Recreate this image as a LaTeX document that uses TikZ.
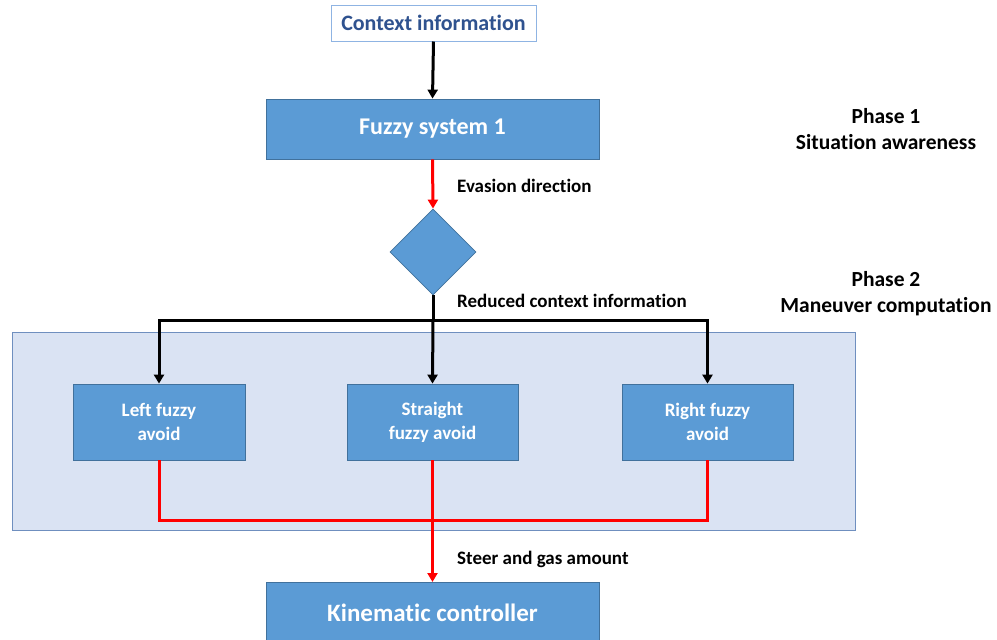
\documentclass[tikz,border=0pt]{standalone}
\usepackage{fontspec}
\setmainfont[Ligatures={NoCommon}]{Carlito}
\usetikzlibrary{arrows.meta,shapes.geometric}
\definecolor{boxfill}{HTML}{5B9BD5}
\definecolor{boxline}{HTML}{41719C}
\definecolor{panelfill}{HTML}{DAE3F3}
\definecolor{panelline}{HTML}{6F8FBF}
\definecolor{ctxline}{HTML}{8FB4E3}
\definecolor{ctxtext}{HTML}{2F528F}
\definecolor{arrred}{HTML}{FF0000}
\begin{document}
\begin{tikzpicture}[x=1pt,y=-1pt,
  bluebox/.style={draw=boxline,fill=boxfill,line width=0.8pt,text=white,font=\bfseries,align=center,inner sep=0pt},
  lbl/.style={anchor=west,font=\bfseries\fontsize{19}{22}\selectfont,inner sep=0pt},
  phase/.style={font=\bfseries\fontsize{21.5}{26}\selectfont,align=center,inner sep=0pt},
  blk/.style={line width=3pt,draw=black},
  red/.style={line width=3pt,draw=arrred},
  tip/.style={-{Triangle[length=9pt,width=10pt]}}]
\useasboundingbox (0,0) rectangle (997,640);
% panel behind the three avoid blocks
\node[draw=panelline,fill=panelfill,line width=0.8pt,minimum width=843pt,minimum height=198pt,inner sep=0pt] (panel) at (433.5,431) {};
% nodes
\node[draw=ctxline,fill=white,line width=1pt,text=ctxtext,font=\bfseries\fontsize{22}{24}\selectfont,minimum width=205pt,minimum height=36pt,inner sep=0pt] (ctx) at (433.5,23) {Context information};
\node[bluebox,minimum width=333pt,minimum height=60pt,font=\bfseries\fontsize{24}{26}\selectfont] (fs1) at (432.5,129) {Fuzzy system 1};
\node[draw=boxline,fill=boxfill,line width=0.8pt,diamond,minimum width=86pt,minimum height=86pt,inner sep=0pt] (dec) at (433,252) {};
\node[bluebox,minimum width=172pt,minimum height=76pt,font=\bfseries\fontsize{19}{24}\selectfont] (left) at (159,422) {Left fuzzy\\avoid};
\node[bluebox,minimum width=171pt,minimum height=76pt,font=\bfseries\fontsize{19}{24}\selectfont] (straight) at (432.5,422) {Straight\\fuzzy avoid};
\node[bluebox,minimum width=171pt,minimum height=76pt,font=\bfseries\fontsize{19}{24}\selectfont] (right) at (707.5,422) {Right fuzzy\\avoid};
\node[bluebox,minimum width=333pt,minimum height=70pt,anchor=north] (kin) at (432.5,582) {};
\node[text=white,font=\bfseries\fontsize{25}{28}\selectfont,inner sep=0pt] (kintext) at (432.5,613) {Kinematic controller};
% labels
\node[lbl] (ev) at (457,186) {Evasion direction};
\node[lbl] (rc) at (457,301) {Reduced context information};
\node[lbl] (sg) at (457,559) {Steer and gas amount};
\node[phase] (ph1) at (886,129) {Phase 1\\Situation awareness};
\node[phase] (ph2) at (886,294) {Phase 2\\Maneuver computation};
% connectors
\coordinate (split) at (433,320);
\coordinate (join) at (433,520);
\draw[blk,tip] (ctx.south) -- (fs1.north);
\draw[red,tip,arrred] (fs1.south) -- (dec.north);
\draw[blk] (dec.south) -- (split);
\draw[blk,tip] (split) -| (left.north);
\draw[blk,tip] (split) -| (right.north);
\draw[blk,tip] (split) -- (straight.north);
\draw[red] (left.south) |- (join);
\draw[red] (right.south) |- (join);
\draw[red,tip,arrred] (straight.south) -- (kin.north);
\end{tikzpicture}
\end{document}
